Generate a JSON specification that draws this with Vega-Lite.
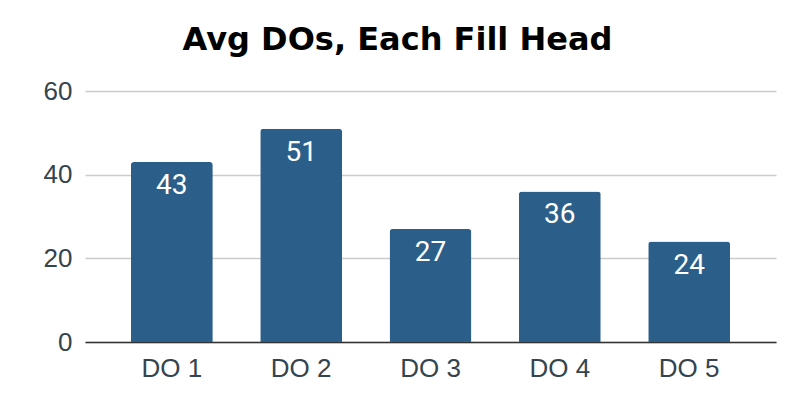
{
  "$schema": "https://vega.github.io/schema/vega-lite/v6.json",
  "width": 691,
  "height": 251,
  "autosize": {"type": "none"},
  "padding": {"left": 85, "top": 91, "right": 24, "bottom": 70},
  "background": "white",
  "title": {
    "text": "Avg DOs, Each Fill Head",
    "font": "DejaVu Sans",
    "fontSize": 32,
    "fontWeight": "bold",
    "color": "#000000",
    "anchor": "middle",
    "frame": "group",
    "baseline": "alphabetic",
    "dx": -33,
    "offset": -4
  },
  "data": {
    "values": [
      {"do": "DO 1", "avg": 43},
      {"do": "DO 2", "avg": 51},
      {"do": "DO 3", "avg": 27},
      {"do": "DO 4", "avg": 36},
      {"do": "DO 5", "avg": 24}
    ]
  },
  "encoding": {
    "x": {
      "field": "do",
      "type": "nominal",
      "sort": null,
      "scale": {"paddingInner": 0.367, "paddingOuter": 0.355},
      "axis": {
        "title": null,
        "labelAngle": 0,
        "ticks": false,
        "domain": true,
        "domainColor": "#333333",
        "domainWidth": 1.5,
        "labelFont": "Liberation Sans",
        "labelFontSize": 26,
        "labelColor": "#34444f",
        "labelPadding": 13
      }
    },
    "y": {
      "field": "avg",
      "type": "quantitative",
      "scale": {"domain": [0, 60]},
      "axis": {
        "title": null,
        "values": [0, 20, 40, 60],
        "ticks": false,
        "domain": false,
        "gridColor": "#cccccc",
        "gridWidth": 1.5,
        "labelFont": "Liberation Sans",
        "labelFontSize": 26,
        "labelColor": "#34444f",
        "labelPadding": 13
      }
    }
  },
  "layer": [
    {
      "mark": {
        "type": "bar",
        "color": "#2b5f8a",
        "cornerRadiusTopLeft": 3,
        "cornerRadiusTopRight": 3
      }
    },
    {
      "mark": {
        "type": "text",
        "color": "white",
        "font": "Roboto",
        "fontSize": 28,
        "baseline": "middle",
        "align": "center",
        "dy": 24
      },
      "encoding": {
        "text": {"field": "avg", "type": "quantitative"}
      }
    }
  ],
  "config": {
    "view": {"stroke": null}
  }
}
